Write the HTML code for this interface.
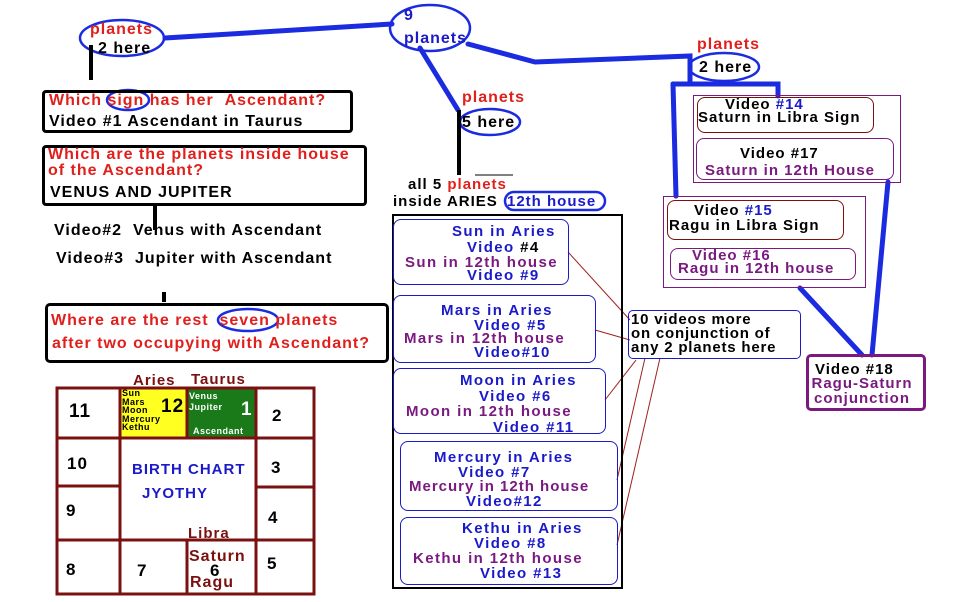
<!DOCTYPE html>
<html><head><meta charset="utf-8"><style>
body{margin:0;width:962px;height:602px;background:#fff;position:relative;overflow:hidden;font-family:"Liberation Sans",Arial,sans-serif;font-weight:bold}
.a{position:absolute;white-space:nowrap;line-height:1;letter-spacing:1px}
.mc{letter-spacing:1.4px}
.r{color:#e0201c}.b{color:#1a1ac8}.k{color:#000}.p{color:#7a1a80}.m{color:#7a1010}
.box{position:absolute;box-sizing:border-box}
svg{position:absolute;left:0;top:0}
</style></head><body>
<svg width="962" height="602">
<g stroke="#1a2be0" stroke-width="5" fill="none" stroke-linecap="round">
<polyline points="165,38 392,24"/>
<polyline points="468,44 535,62 690,56 690,82"/>
<polyline points="420,48 458,110"/>
<polyline points="673,84 778,84 778,96"/>
<polyline points="673,84 676,196"/>
<polyline points="888,182 872,355"/>
<polyline points="800,288 862,355"/>
</g>
<g stroke="#1a2be0" stroke-width="2.5" fill="none">
<ellipse cx="122" cy="38" rx="42" ry="18"/>
<ellipse cx="430" cy="28" rx="40" ry="23"/>
<ellipse cx="724" cy="67" rx="35" ry="14"/>
<ellipse cx="490" cy="122" rx="30" ry="13"/>
<ellipse cx="128" cy="100" rx="21" ry="10"/>
<ellipse cx="248" cy="320" rx="30" ry="11"/>
<rect x="505" y="192" width="100" height="18" rx="9"/>
</g>
<g stroke="#000" stroke-width="4" fill="none">
<line x1="91" y1="45" x2="91" y2="80"/>
<line x1="459" y1="110" x2="459" y2="175"/>
<line x1="155" y1="205" x2="155" y2="230"/>
<line x1="164" y1="292" x2="164" y2="302"/>
</g>
<g stroke="#a02020" stroke-width="1" fill="none">
<polyline points="568,252 630,320"/>
<polyline points="595,330 630,340"/>
<polyline points="605,400 636,360"/>
<polyline points="617,480 645,358"/>
<polyline points="617,545 660,358"/>
</g>
<line x1="475" y1="175" x2="513" y2="175" stroke="#000" stroke-width="1"/>
<rect x="120" y="388" width="67" height="50" fill="#ffff22"/>
<rect x="188" y="388" width="68" height="50" fill="#1a7a1a"/>
<g stroke="#7a1010" stroke-width="3" fill="none">
<rect x="57" y="388" width="257" height="206"/>
<line x1="120" y1="388" x2="120" y2="594"/>
<line x1="187" y1="388" x2="187" y2="438"/>
<line x1="256" y1="388" x2="256" y2="594"/>
<line x1="187" y1="540" x2="187" y2="594"/>
<line x1="57" y1="438" x2="314" y2="438"/>
<line x1="57" y1="486" x2="120" y2="486"/>
<line x1="256" y1="487" x2="314" y2="487"/>
<line x1="57" y1="540" x2="314" y2="540"/>
</g>
</svg>

<div class="a r" style="left:90px;top:22px;font-size:16px">planets</div>
<div class="a k" style="left:98px;top:41px;font-size:16px">2 here</div>
<div class="a b" style="left:404px;top:8px;font-size:16px">9</div>
<div class="a b" style="left:404px;top:31px;font-size:16px">planets</div>
<div class="a r" style="left:697px;top:37px;font-size:16px">planets</div>
<div class="a k" style="left:699px;top:60px;font-size:16px">2 here</div>
<div class="a r" style="left:462px;top:90px;font-size:16px">planets</div>
<div class="a k" style="left:462px;top:115px;font-size:16px">5 here</div>

<div class="box" style="left:42px;top:90px;width:311px;height:43px;border:3px solid #000;border-radius:4px"></div>
<div class="a r" style="left:49px;top:93px;font-size:16px">Which sign has her &nbsp;Ascendant?</div>
<div class="a k" style="left:49px;top:114px;font-size:16px">Video #1 Ascendant in Taurus</div>
<div class="box" style="left:42px;top:145px;width:325px;height:61px;border:3px solid #000;border-radius:4px"></div>
<div class="a r" style="left:48px;top:147px;font-size:16px">Which are the planets inside house</div>
<div class="a r" style="left:48px;top:163px;font-size:16px">of the Ascendant?</div>
<div class="a k" style="left:50px;top:185px;font-size:16px">VENUS AND JUPITER</div>
<div class="a k" style="left:54px;top:223px;font-size:16px">Video#2 &nbsp;Venus with Ascendant</div>
<div class="a k" style="left:56px;top:251px;font-size:16px">Video#3 &nbsp;Jupiter with Ascendant</div>
<div class="box" style="left:45px;top:303px;width:344px;height:60px;border:3px solid #000;border-radius:5px"></div>
<div class="a r" style="left:51px;top:313px;font-size:16px">Where are the rest &nbsp;seven planets</div>
<div class="a r" style="left:52px;top:336px;font-size:16px">after two occupying with Ascendant?</div>

<div class="a m" style="left:133px;top:373px;font-size:15px">Aries</div>
<div class="a m" style="left:191px;top:372px;font-size:15px">Taurus</div>
<div class="a k" style="left:69px;top:402px;font-size:19px">11</div>
<div class="a k" style="left:122px;top:389px;font-size:9px;line-height:8.5px;letter-spacing:0.5px">Sun<br>Mars<br>Moon<br>Mercury<br>Kethu</div>
<div class="a k" style="left:161px;top:397px;font-size:19px">12</div>
<div class="a" style="left:189px;top:391px;font-size:9px;color:#fff;line-height:11px;letter-spacing:0.5px">Venus<br>Jupiter</div>
<div class="a" style="left:241px;top:400px;font-size:19px;color:#fff">1</div>
<div class="a" style="left:193px;top:427px;font-size:9px;color:#fff;letter-spacing:0.5px">Ascendant</div>
<div class="a k" style="left:272px;top:407px;font-size:17px">2</div>
<div class="a k" style="left:67px;top:455px;font-size:17px">10</div>
<div class="a b" style="left:132px;top:462px;font-size:15px">BIRTH CHART</div>
<div class="a b" style="left:142px;top:486px;font-size:15px">JYOTHY</div>
<div class="a k" style="left:271px;top:459px;font-size:17px">3</div>
<div class="a k" style="left:66px;top:502px;font-size:17px">9</div>
<div class="a k" style="left:268px;top:509px;font-size:17px">4</div>
<div class="a m" style="left:188px;top:526px;font-size:15px">Libra</div>
<div class="a k" style="left:66px;top:561px;font-size:17px">8</div>
<div class="a k" style="left:137px;top:562px;font-size:17px">7</div>
<div class="a m" style="left:189px;top:549px;font-size:16px">Saturn</div>
<div class="a k" style="left:210px;top:562px;font-size:17px">6</div>
<div class="a m" style="left:190px;top:575px;font-size:16px">Ragu</div>
<div class="a k" style="left:267px;top:555px;font-size:17px">5</div>

<div class="a k" style="left:408px;top:177px;font-size:15px">all 5 <span class="r">planets</span></div>
<div class="a k" style="left:393px;top:194px;font-size:15px">inside ARIES</div>
<div class="a b" style="left:507px;top:194px;font-size:15px">12th house</div>
<div class="box" style="left:392px;top:214px;width:231px;height:375px;border:2px solid #000"></div>
<div class="box" style="left:393px;top:219px;width:176px;height:66px;border:1px solid #1a1ac8;border-radius:8px"></div>
<div class="a b mc" style="left:452px;top:224px;font-size:15px">Sun in Aries</div>
<div class="a b mc" style="left:467px;top:240px;font-size:15px">Video <span class="k">#4</span></div>
<div class="a p mc" style="left:405px;top:255px;font-size:15px">Sun in 12th house</div>
<div class="a b mc" style="left:467px;top:268px;font-size:15px">Video #9</div>
<div class="box" style="left:393px;top:295px;width:203px;height:68px;border:1px solid #1a1ac8;border-radius:8px"></div>
<div class="a b mc" style="left:441px;top:303px;font-size:15px">Mars in Aries</div>
<div class="a b mc" style="left:474px;top:318px;font-size:15px">Video #5</div>
<div class="a p mc" style="left:404px;top:331px;font-size:15px">Mars in 12th house</div>
<div class="a b mc" style="left:474px;top:345px;font-size:15px">Video#10</div>
<div class="box" style="left:393px;top:368px;width:213px;height:66px;border:1px solid #1a1ac8;border-radius:8px"></div>
<div class="a b mc" style="left:460px;top:373px;font-size:15px">Moon in Aries</div>
<div class="a b mc" style="left:479px;top:389px;font-size:15px">Video #6</div>
<div class="a p mc" style="left:406px;top:404px;font-size:15px">Moon in 12th house</div>
<div class="a b mc" style="left:493px;top:420px;font-size:15px">Video #11</div>
<div class="box" style="left:400px;top:441px;width:218px;height:70px;border:1px solid #1a1ac8;border-radius:8px"></div>
<div class="a b mc" style="left:434px;top:450px;font-size:15px">Mercury in Aries</div>
<div class="a b mc" style="left:458px;top:465px;font-size:15px">Video #7</div>
<div class="a p mc" style="left:409px;top:479px;font-size:15px;letter-spacing:1px">Mercury in 12th house</div>
<div class="a b mc" style="left:466px;top:494px;font-size:15px">Video#12</div>
<div class="box" style="left:400px;top:517px;width:218px;height:68px;border:1px solid #1a1ac8;border-radius:8px"></div>
<div class="a b mc" style="left:462px;top:521px;font-size:15px">Kethu in Aries</div>
<div class="a b mc" style="left:474px;top:536px;font-size:15px">Video #8</div>
<div class="a p mc" style="left:413px;top:551px;font-size:15px">Kethu in 12th house</div>
<div class="a b mc" style="left:480px;top:566px;font-size:15px">Video #13</div>

<div class="box" style="left:628px;top:310px;width:173px;height:49px;border:1px solid #1a1ac8;border-radius:5px"></div>
<div class="a k" style="left:631px;top:313px;font-size:15px;line-height:14px;letter-spacing:0.8px">10 videos more<br>on conjunction of<br>any 2 planets here</div>

<div class="box" style="left:693px;top:95px;width:208px;height:88px;border:1px solid #7a1a80"></div>
<div class="box" style="left:697px;top:97px;width:177px;height:36px;border:1px solid #7a1010;border-radius:8px"></div>
<div class="a k" style="left:725px;top:97px;font-size:15px">Video <span class="b">#14</span></div>
<div class="a k" style="left:698px;top:110px;font-size:15px">Saturn in Libra Sign</div>
<div class="box" style="left:696px;top:138px;width:198px;height:42px;border:1px solid #7a1a80;border-radius:8px"></div>
<div class="a k" style="left:740px;top:146px;font-size:15px">Video #17</div>
<div class="a p" style="left:705px;top:163px;font-size:15px">Saturn in 12th House</div>
<div class="box" style="left:663px;top:196px;width:203px;height:92px;border:1px solid #7a1a80"></div>
<div class="box" style="left:667px;top:200px;width:177px;height:40px;border:1px solid #7a1010;border-radius:8px"></div>
<div class="a k" style="left:694px;top:203px;font-size:15px">Video <span class="b">#15</span></div>
<div class="a k" style="left:669px;top:218px;font-size:15px">Ragu in Libra Sign</div>
<div class="box" style="left:670px;top:248px;width:186px;height:32px;border:1px solid #7a1a80;border-radius:8px"></div>
<div class="a p" style="left:692px;top:248px;font-size:15px">Video #16</div>
<div class="a p" style="left:678px;top:261px;font-size:15px">Ragu in 12th house</div>

<div class="box" style="left:806px;top:354px;width:120px;height:57px;border:3px solid #7a1a80;border-radius:5px"></div>
<div class="a k" style="left:815px;top:362px;font-size:15px">Video #18</div>
<div class="a p" style="left:805px;top:376px;font-size:15px;width:114px;text-align:center;line-height:15px">Ragu-Saturn<br>conjunction</div>
</body></html>
